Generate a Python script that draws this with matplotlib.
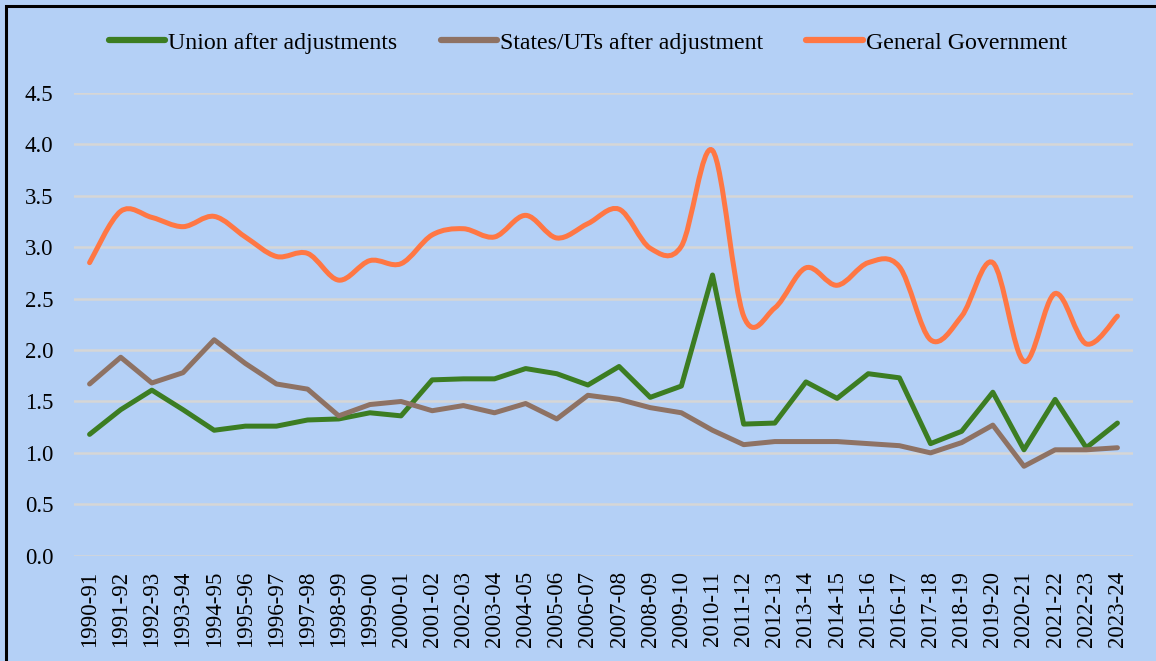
import numpy as np
import matplotlib
matplotlib.use("Agg")
import matplotlib.pyplot as plt
from matplotlib.path import Path
from matplotlib.patches import PathPatch, Rectangle
from matplotlib.lines import Line2D

plt.rcParams['font.family'] = ['Liberation Serif', 'DejaVu Serif']

years = ["1990-91", "1991-92", "1992-93", "1993-94", "1994-95", "1995-96", "1996-97",
         "1997-98", "1998-99", "1999-00", "2000-01", "2001-02", "2002-03", "2003-04",
         "2004-05", "2005-06", "2006-07", "2007-08", "2008-09", "2009-10", "2010-11",
         "2011-12", "2012-13", "2013-14", "2014-15", "2015-16", "2016-17", "2017-18",
         "2018-19", "2019-20", "2020-21", "2021-22", "2022-23", "2023-24"]

union = [1.18, 1.42, 1.61, 1.42, 1.22, 1.26, 1.26, 1.32, 1.33, 1.39, 1.36, 1.71,
         1.72, 1.72, 1.82, 1.77, 1.66, 1.84, 1.54, 1.65, 2.73, 1.28, 1.29, 1.69,
         1.53, 1.77, 1.73, 1.09, 1.21, 1.59, 1.03, 1.52, 1.05, 1.29]

states = [1.67, 1.93, 1.68, 1.78, 2.10, 1.87, 1.67, 1.62, 1.36, 1.47, 1.50, 1.41,
          1.46, 1.39, 1.48, 1.33, 1.56, 1.52, 1.44, 1.39, 1.22, 1.08, 1.11, 1.11,
          1.11, 1.09, 1.07, 1.00, 1.10, 1.27, 0.87, 1.03, 1.03, 1.05]

general = [2.85, 3.35, 3.29, 3.20, 3.30, 3.10, 2.91, 2.94, 2.68, 2.87, 2.84, 3.12,
           3.18, 3.10, 3.31, 3.09, 3.23, 3.37, 2.99, 3.01, 3.94, 2.33, 2.41, 2.80,
           2.63, 2.85, 2.81, 2.10, 2.33, 2.85, 1.89, 2.55, 2.06, 2.33]

bg = '#B4D0F6'
c_union = '#3C7D22'
c_states = '#8E7264'
c_general = '#FF7744'


def smooth_path(x, y):
    # excel-like smoothed line: cubic bezier through every point
    x = np.asarray(x, float)
    y = np.asarray(y, float)
    n = len(x)
    verts = [(x[0], y[0])]
    codes = [Path.MOVETO]
    for i in range(n - 1):
        i0 = max(i - 1, 0)
        i3 = min(i + 2, n - 1)
        c1 = (x[i] + (x[i + 1] - x[i0]) / 6, y[i] + (y[i + 1] - y[i0]) / 6)
        c2 = (x[i + 1] - (x[i3] - x[i]) / 6, y[i + 1] - (y[i3] - y[i]) / 6)
        verts += [c1, c2, (x[i + 1], y[i + 1])]
        codes += [Path.CURVE4] * 3
    return Path(verts, codes)


fig = plt.figure(figsize=(11.56, 6.61), dpi=100, facecolor=bg)
ax = fig.add_axes([74 / 1156, 1 - 555.7 / 661, (1133 - 74) / 1156, (555.7 - 93) / 661])
ax.set_facecolor(bg)

xs = np.arange(len(years))
ax.plot(xs, union, color=c_union, lw=3.6, solid_capstyle='round', zorder=3)
ax.plot(xs, states, color=c_states, lw=3.6, solid_capstyle='round', zorder=3)
ax.add_patch(PathPatch(smooth_path(xs, general), facecolor='none', edgecolor=c_general,
                       lw=3.6, capstyle='round', zorder=4))

ax.set_xlim(-0.5, len(years) - 0.5)
ax.set_ylim(0, 4.5)
ax.set_yticks(np.arange(0, 4.51, 0.5))
ax.set_yticklabels([f"{v:.1f}" for v in np.arange(0, 4.51, 0.5)])
ax.set_xticks(xs)
ax.set_xticklabels(years, rotation=90)
ax.tick_params(axis='y', length=0, pad=15, labelsize=16.5)
ax.tick_params(axis='x', length=0, pad=11, labelsize=16.5)
ax.grid(axis='y', color='#D6D6D6', lw=1.8)
ax.set_axisbelow(True)
for s in ax.spines.values():
    s.set_visible(False)

handles = [Line2D([], [], color=c_union, lw=4.5, solid_capstyle='round'),
           Line2D([], [], color=c_states, lw=4.5, solid_capstyle='round'),
           Line2D([], [], color=c_general, lw=4.5, solid_capstyle='round')]
labels = ["Union after adjustments", "States/UTs after adjustment", "General Government"]
fig.legend(handles, labels, loc='center', bbox_to_anchor=(588 / 1156, 1 - 43 / 661),
           ncol=3, frameon=False, fontsize=17.2, handlelength=2.35, handletextpad=0.15,
           columnspacing=1.8)

# outer frame (runs off the right and bottom edges)
fig.patches.append(Rectangle((5.5 / 1156, -0.1), 1.2, 1.1 - 6 / 661,
                             transform=fig.transFigure, fill=False, edgecolor='black',
                             lw=2.2))

fig.savefig("out.png", dpi=100, facecolor=bg)
